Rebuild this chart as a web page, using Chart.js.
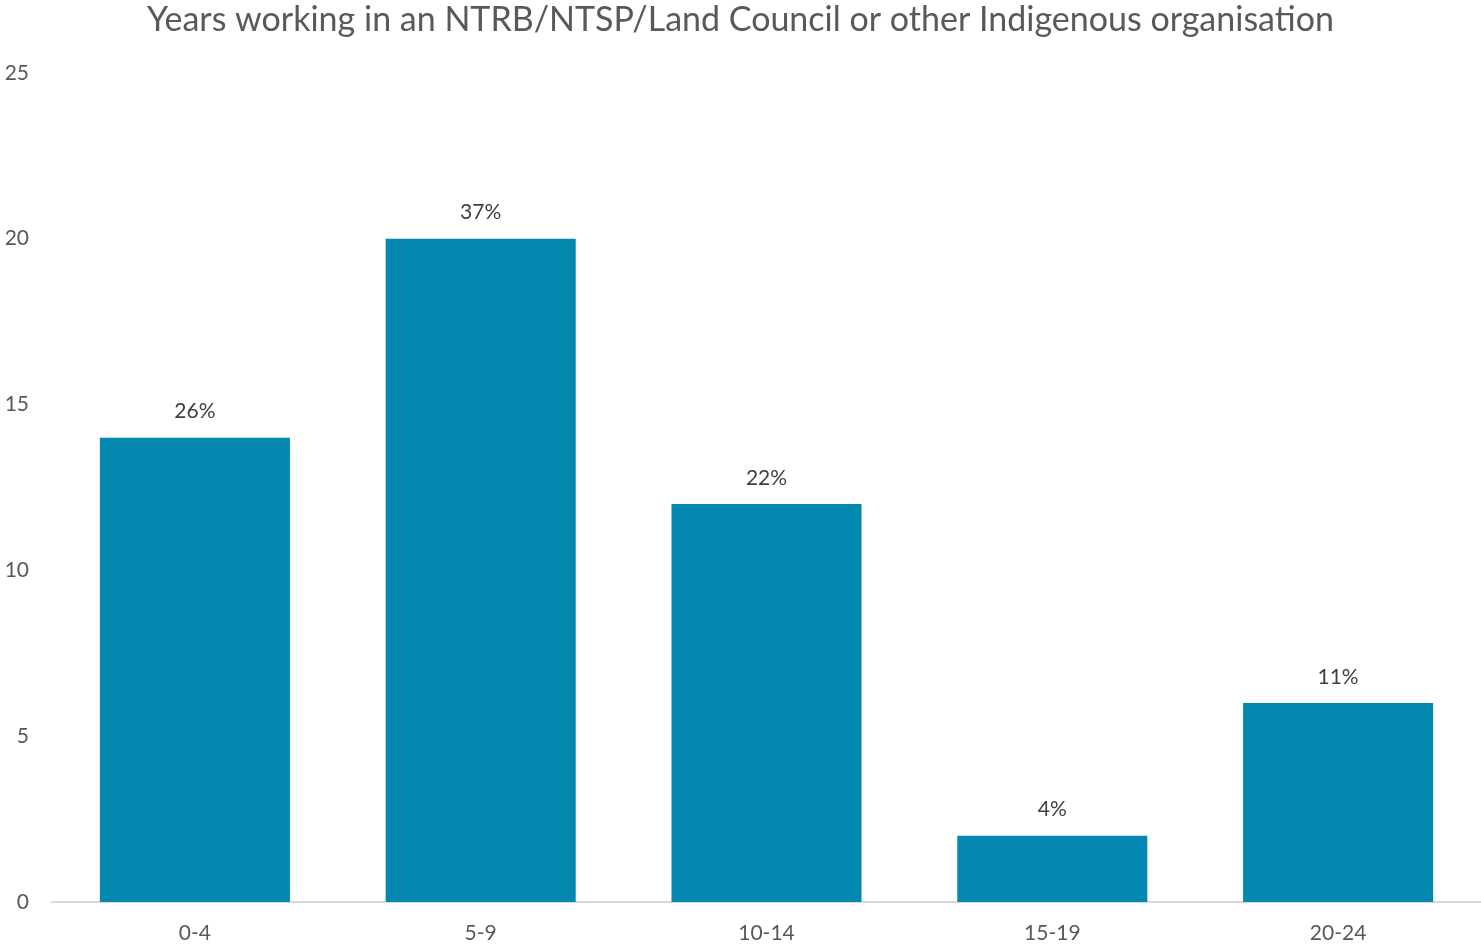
<!DOCTYPE html>
<html>
<head>
<meta charset="utf-8">
<script src="https://cdn.jsdelivr.net/npm/chart.js@4"></script>
<style>
  html, body { margin: 0; padding: 0; background: #fff; }
  #wrap { width: 1481px; height: 947px; }
</style>
</head>
<body>
<div id="wrap"><canvas id="c"></canvas></div>
<script>
const categories = ['0-4', '5-9', '10-14', '15-19', '20-24'];
const counts = [14, 20, 12, 2, 6];
const percentLabels = ['26%', '37%', '22%', '4%', '11%'];
const yTicks = [0, 5, 10, 15, 20, 25];

const FONT = 'Lato, "Open Sans", sans-serif';

// draws the percentage above each bar
const barLabels = {
  id: 'barLabels',
  afterDatasetsDraw(chart) {
    const ctx = chart.ctx;
    const meta = chart.getDatasetMeta(0);
    ctx.save();
    ctx.font = '21px ' + FONT;
    ctx.fillStyle = '#404040';
    ctx.textAlign = 'center';
    ctx.textBaseline = 'middle';
    meta.data.forEach((bar, i) => {
      ctx.fillText(percentLabels[i], bar.x, bar.y - 26);
    });
    ctx.restore();
  }
};

new Chart(document.getElementById('c'), {
  type: 'bar',
  data: {
    labels: categories,
    datasets: [{
      data: counts,
      backgroundColor: '#0588B0',
      barPercentage: 0.665,
      categoryPercentage: 1.0
    }]
  },
  options: {
    responsive: true,
    maintainAspectRatio: false,
    animation: false,
    layout: { padding: 0 },
    plugins: {
      legend: { display: false },
      tooltip: { enabled: false },
      title: {
        display: true,
        text: 'Years working in an NTRB/NTSP/Land Council or other Indigenous organisation',
        color: '#595959',
        font: { family: FONT, size: 34, weight: 'normal' },
        padding: { top: 0, bottom: 32 }
      }
    },
    scales: {
      x: {
        grid: { display: false },
        border: { display: true, color: '#d9d9d9', width: 2 },
        ticks: { color: '#595959', font: { family: FONT, size: 21 }, padding: 11 },
        afterFit(scale) { scale.height = 45; }
      },
      y: {
        min: 0,
        max: 25,
        afterBuildTicks(scale) { scale.ticks = yTicks.map(v => ({ value: v })); },
        grid: { display: false },
        border: { display: false },
        ticks: { color: '#595959', font: { family: FONT, size: 21 }, padding: 15 },
        afterFit(scale) { scale.width = 52; }
      }
    }
  },
  plugins: [barLabels]
});
</script>
</body>
</html>
